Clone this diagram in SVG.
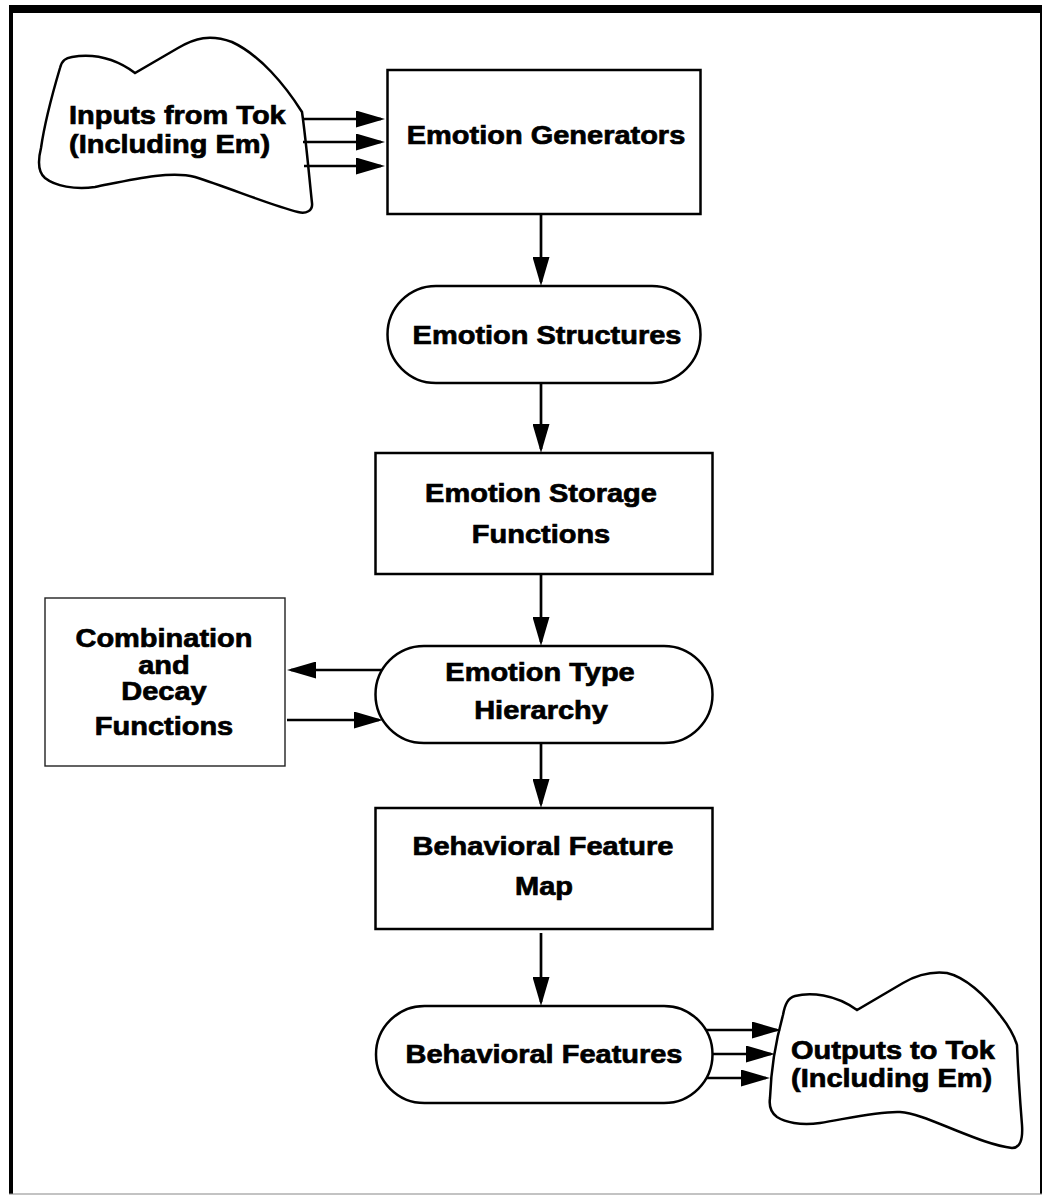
<svg xmlns="http://www.w3.org/2000/svg" width="1045" height="1195" viewBox="0 0 1045 1195">
<defs>
<marker id="ah" viewBox="0 0 29 17" markerWidth="29" markerHeight="17" refX="25" refY="8.5" orient="auto" markerUnits="userSpaceOnUse"><path d="M0,0 L29,8.5 L0,17 Z" fill="#000"/></marker>
</defs>
<style>
.box{fill:#fff;stroke:#000;stroke-width:2.5}
.thin{fill:#fff;stroke:#222;stroke-width:1.4}
.lbl{font-family:"Liberation Sans",Arial,Helvetica,sans-serif;font-weight:bold;font-size:26px;fill:#000;stroke:#000;stroke-width:0.7}
.c{text-anchor:middle}
.conn line{stroke:#000;stroke-width:2.7;marker-end:url(#ah)}
</style>
<rect width="1045" height="1195" fill="#fff"/>
<g id="frame">
<rect x="9" y="5" width="1033" height="8" fill="#000"/>
<rect x="9" y="5" width="4" height="1189" fill="#000"/>
<rect x="1040" y="5" width="2" height="1189" fill="#000"/>
<line x1="9" y1="1194" x2="1042" y2="1194" stroke="#888" stroke-width="1.2"/>
</g>
<g id="inputs">
<path class="box" d="M60,68 C62,60 66,58 72,57 C90,54 112,56 135,73 L178,48 C195,38 210,34 232,42 C260,55 285,85 302,112 C306,140 309,175 312,203 C313,211 306,214 298,212 C270,205 230,188 195,177 C170,170 130,180 95,187 C75,190 55,186 45,178 C38,172 38,160 41,148 C45,120 52,95 60,68 Z"/>
<text class="lbl" transform="translate(69,124) scale(1.115,1)">Inputs from Tok</text>
<text class="lbl" transform="translate(69,153) scale(1.115,1)">(Including Em)</text>
</g>
<g id="generators">
<rect class="box" x="387.5" y="70" width="313" height="144"/>
<text class="lbl c" transform="translate(546,144) scale(1.115,1)">Emotion Generators</text>
</g>
<g id="structures">
<rect class="box" x="387.5" y="286" width="313" height="97" rx="48.5"/>
<text class="lbl c" transform="translate(547,344) scale(1.115,1)">Emotion Structures</text>
</g>
<g id="storage">
<rect class="box" x="375.5" y="453" width="337" height="121"/>
<text class="lbl c" transform="translate(541,502) scale(1.115,1)">Emotion Storage</text>
<text class="lbl c" transform="translate(541,543) scale(1.115,1)">Functions</text>
</g>
<g id="combination">
<rect class="thin" x="45" y="598" width="240" height="168"/>
<text class="lbl c" transform="translate(164,647) scale(1.115,1)">Combination</text>
<text class="lbl c" transform="translate(164,673.5) scale(1.115,1)">and</text>
<text class="lbl c" transform="translate(164,700) scale(1.115,1)">Decay</text>
<text class="lbl c" transform="translate(164,734.5) scale(1.115,1)">Functions</text>
</g>
<g id="hierarchy">
<rect class="box" x="375.5" y="646" width="337" height="97" rx="48.5"/>
<text class="lbl c" transform="translate(540,681) scale(1.115,1)">Emotion Type</text>
<text class="lbl c" transform="translate(541,719) scale(1.115,1)">Hierarchy</text>
</g>
<g id="featuremap">
<rect class="box" x="375.5" y="808" width="337" height="121"/>
<text class="lbl c" transform="translate(543,855) scale(1.115,1)">Behavioral Feature</text>
<text class="lbl c" transform="translate(544,895) scale(1.115,1)">Map</text>
</g>
<g id="features">
<rect class="box" x="376" y="1006" width="336.5" height="97" rx="48.5"/>
<text class="lbl c" transform="translate(544,1063) scale(1.115,1)">Behavioral Features</text>
</g>
<g id="outputs">
<path class="box" d="M783,1015 C785,1004 788,998 795,996 C810,992 835,994 857,1010 L903,983 C915,976 930,971 947,973 C965,977 985,995 1000,1015 C1008,1025 1014,1035 1017,1045 C1018,1070 1020,1100 1022,1125 C1023,1140 1020,1148 1012,1148 C995,1146 975,1138 955,1130 C935,1122 915,1113 900,1112 C880,1111 850,1118 820,1123 C800,1126 785,1122 777,1117 C770,1112 769,1105 770,1098 C771,1070 776,1040 783,1015 Z"/>
<text class="lbl" transform="translate(791,1059) scale(1.115,1)">Outputs to Tok</text>
<text class="lbl" transform="translate(791,1087) scale(1.115,1)">(Including Em)</text>
</g>
<g id="connectors" class="conn">
<line x1="302" y1="119" x2="381" y2="119"/>
<line x1="303" y1="142" x2="381" y2="142"/>
<line x1="304" y1="166" x2="381" y2="166"/>
<line x1="541" y1="214" x2="541" y2="282"/>
<line x1="541" y1="383" x2="541" y2="449"/>
<line x1="541" y1="574" x2="541" y2="642"/>
<line x1="541" y1="743" x2="541" y2="804"/>
<line x1="541" y1="933" x2="541" y2="1002"/>
<line x1="382" y1="670" x2="291" y2="670"/>
<line x1="287" y1="720" x2="379" y2="720"/>
<line x1="706" y1="1030" x2="777" y2="1030"/>
<line x1="713" y1="1054" x2="771" y2="1054"/>
<line x1="707" y1="1078" x2="766" y2="1078"/>
</g>
</svg>
